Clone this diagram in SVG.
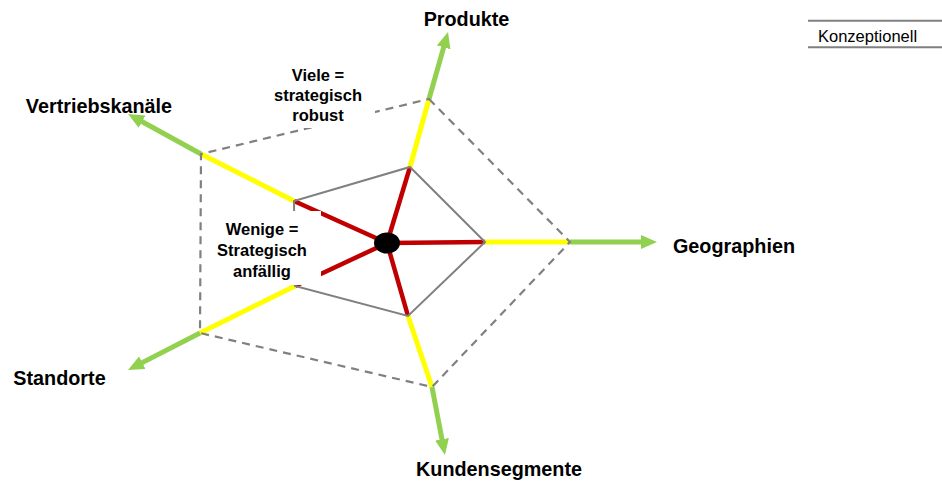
<svg xmlns="http://www.w3.org/2000/svg" width="942" height="483" viewBox="0 0 942 483">
<style>
.lbl{font-family:"Liberation Sans",Arial,sans-serif;font-weight:bold;font-size:19.8px;fill:#000;text-anchor:middle}
.note{font-family:"Liberation Sans",Arial,sans-serif;font-weight:bold;font-size:16.5px;fill:#000;text-anchor:middle}
.red{stroke:#C00000;stroke-width:4.5;fill:none}
.yel{stroke:#FFFF00;stroke-width:5;fill:none}
.grn{stroke:#92D050;stroke-width:5;fill:none;marker-end:url(#ah)}
.inner{stroke:#808080;stroke-width:2;fill:none}
.outer{stroke:#808080;stroke-width:2.2;fill:none;stroke-dasharray:8 6}
</style>
<defs>
<marker id="ah" markerUnits="userSpaceOnUse" markerWidth="16" markerHeight="14" refX="6" refY="7" orient="auto">
<path d="M0,0 L16,7 L0,14 z" fill="#92D050"/>
</marker>
</defs>
<rect width="942" height="483" fill="#fff"/>
<g id="connectors">
<g id="red-axes">
<line class="red" x1="387" y1="243" x2="410" y2="167"/>
<line class="red" x1="387" y1="243" x2="485" y2="242"/>
<line class="red" x1="387" y1="243" x2="408" y2="316"/>
<line class="red" x1="387" y1="243" x2="295" y2="286"/>
<line class="red" x1="387" y1="243" x2="294" y2="201"/>
</g>
<g id="yellow-axes">
<line class="yel" x1="410" y1="167" x2="429" y2="99"/>
<line class="yel" x1="485" y1="242" x2="570" y2="242"/>
<line class="yel" x1="408" y1="316" x2="432" y2="387"/>
<line class="yel" x1="295" y1="286" x2="200" y2="333"/>
<line class="yel" x1="294" y1="201" x2="201" y2="154"/>
</g>
<g id="green-arrows">
<line class="grn" x1="429" y1="99" x2="445.3" y2="41.6"/>
<line class="grn" x1="570" y1="242" x2="647" y2="242"/>
<line class="grn" x1="432" y1="387" x2="443.1" y2="445.2"/>
<line class="grn" x1="200" y1="333" x2="136.9" y2="365.4"/>
<line class="grn" x1="201" y1="154" x2="136.8" y2="118.8"/>
</g>
</g>
<g id="outer-pentagon">
<polygon class="outer" points="429,99 570,242 432,387 200,333 201,154"/>
</g>
<g id="inner-pentagon">
<polygon class="inner" points="410,167 485,242 408,316 295,286 294,201"/>
</g>
<g id="center">
<ellipse cx="387" cy="243" rx="13" ry="10.5" fill="#000"/>
</g>
<g id="note-viele">
<rect x="262" y="62" width="113" height="66" fill="#fff"/>
<text class="note" x="318" y="81">Viele =</text>
<text class="note" x="318" y="101">strategisch</text>
<text class="note" x="318" y="121">robust</text>
</g>
<g id="note-wenige">
<rect x="204" y="211" width="117" height="74" fill="#fff"/>
<text class="note" x="262" y="235">Wenige =</text>
<text class="note" x="262" y="256">Strategisch</text>
<text class="note" x="262" y="277">anfällig</text>
</g>
<g id="label-produkte"><text class="lbl" x="466.5" y="26">Produkte</text></g>
<g id="label-geographien"><text class="lbl" x="734" y="253">Geographien</text></g>
<g id="label-kundensegmente"><text class="lbl" x="499" y="476">Kundensegmente</text></g>
<g id="label-standorte"><text class="lbl" x="59.5" y="385">Standorte</text></g>
<g id="label-vertriebskanaele"><text class="lbl" x="99" y="113">Vertriebskanäle</text></g>
<g id="tag-konzeptionell">
<line x1="808" y1="20.7" x2="942" y2="20.7" stroke="#808080" stroke-width="2"/>
<line x1="808" y1="47.3" x2="942" y2="47.3" stroke="#808080" stroke-width="2"/>
<text x="818" y="41.5" style="font-family:'Liberation Sans',Arial,sans-serif;font-size:16.5px;fill:#000">Konzeptionell</text>
</g>
</svg>
